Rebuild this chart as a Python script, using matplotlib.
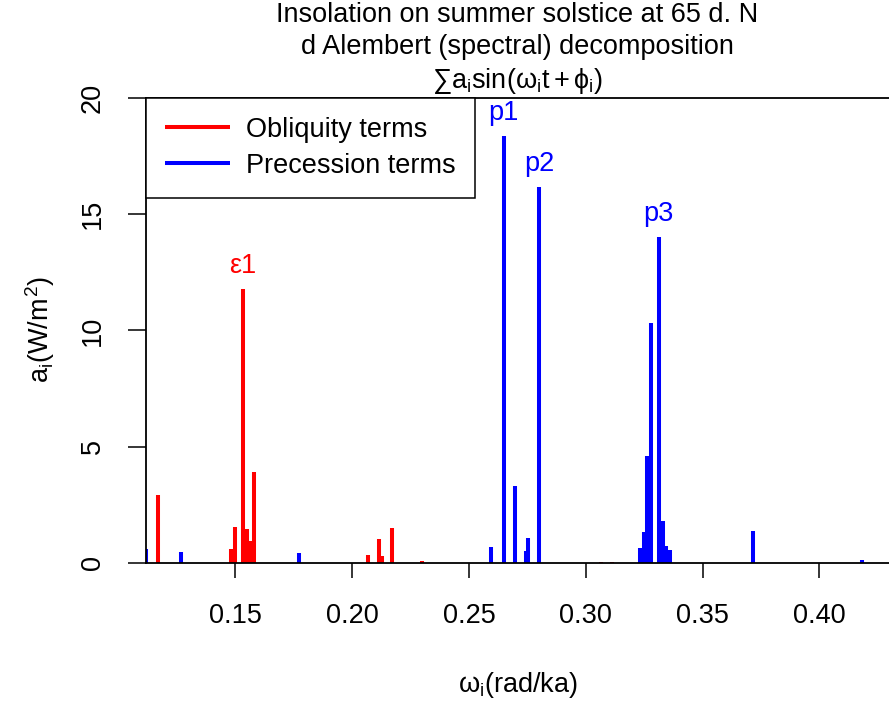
import matplotlib
matplotlib.use("Agg")
import matplotlib.pyplot as plt

plt.rcParams['font.family'] = ['Liberation Sans', 'DejaVu Sans']
plt.rcParams['mathtext.fontset'] = 'custom'
plt.rcParams['mathtext.rm'] = 'Liberation Sans'
plt.rcParams['mathtext.it'] = 'Liberation Sans'
plt.rcParams['mathtext.bf'] = 'Liberation Sans'

# obliquity terms: frequency (rad/ka) and amplitude (W/m2)
obl_freq = [0.1171, 0.1481, 0.1500, 0.1532, 0.1549, 0.1562, 0.1580,
            0.2068, 0.2117, 0.2127, 0.2172, 0.2299, 0.3065, 0.3114]
obl_amp = [2.92, 0.59, 1.56, 11.78, 1.45, 0.95, 3.91,
           0.33, 1.02, 0.30, 1.52, 0.10, 0.05, 0.05]

# precession terms
pre_freq = [0.1120, 0.1267, 0.1774, 0.2595, 0.2649, 0.2697, 0.2743, 0.2754, 0.2801,
            0.3232, 0.3249, 0.3263, 0.3280, 0.3312, 0.3331, 0.3343, 0.3361,
            0.3717, 0.4183]
pre_amp = [0.60, 0.46, 0.42, 0.67, 18.37, 3.33, 0.53, 1.08, 16.17,
           0.66, 1.32, 4.62, 10.31, 14.02, 1.81, 0.75, 0.55,
           1.38, 0.12]

# labelled peaks
peak_names = ['ε1', 'p1', 'p2', 'p3']
peak_freq = [0.1532, 0.2649, 0.2801, 0.3312]
peak_amp = [11.78, 18.37, 16.17, 14.02]
peak_cols = ['red', 'blue', 'blue', 'blue']

FS = 19.5

fig = plt.figure(figsize=(8.89, 7.03), dpi=100)
ax = fig.add_axes([146/889, 1 - 563/703, 743/889, 465/703])

ax.vlines(obl_freq, 0, obl_amp, colors='red', lw=2.9, label='Obliquity terms')
ax.vlines(pre_freq, 0, pre_amp, colors='blue', lw=2.9, label='Precession terms')

for name, f, a, c in zip(peak_names, peak_freq, peak_amp, peak_cols):
    ax.text(f, a + 1.0, name, color=c, fontsize=FS, ha='center', va='center')

ax.set_xlim(0.11183, 0.42976)
ax.set_ylim(0, 20)
ax.set_xticks([0.15, 0.20, 0.25, 0.30, 0.35, 0.40])
ax.set_xticklabels(['0.15', '0.20', '0.25', '0.30', '0.35', '0.40'])
ax.set_yticks([0, 5, 10, 15, 20])
ax.tick_params(axis='x', length=11, width=1.1, labelsize=FS, pad=18)
ax.tick_params(axis='y', length=13, width=1.1, labelsize=FS, pad=16)
for lab in ax.get_yticklabels():
    lab.set_rotation(90)
    lab.set_va('center')
ax.spines['right'].set_visible(False)
for s in ['left', 'top', 'bottom']:
    ax.spines[s].set_linewidth(1.3)

leg = ax.legend(loc='upper left', bbox_to_anchor=(0, 1), borderaxespad=0,
                fontsize=FS, fancybox=False, framealpha=1, edgecolor='black',
                handlelength=2.4, handletextpad=0.6, labelspacing=0.36,
                borderpad=0.7)
leg.get_frame().set_linewidth(1.1)
for ln in leg.get_lines():
    ln.set_linewidth(2.9)

cx = 517.5 / 889
fig.text(cx, 1 - 15/703, 'Insolation on summer solstice at 65 d. N', ha='center', va='center', fontsize=FS)
fig.text(cx, 1 - 47/703, 'd Alembert (spectral) decomposition', ha='center', va='center', fontsize=FS)
fig.text(cx, 1 - 81/703, r'$\sum a_i \mathrm{sin}(\omega_i t+\phi_i)$', ha='center', va='center', fontsize=FS)

fig.text(40/889, 1 - 330/703, r'$a_i(W/m^2)$', rotation=90, ha='center', va='center', fontsize=FS)
fig.text(cx, 1 - 685/703, r'$\omega_i(rad/ka)$', ha='center', va='center', fontsize=FS)

fig.savefig('out.png', dpi=100)
